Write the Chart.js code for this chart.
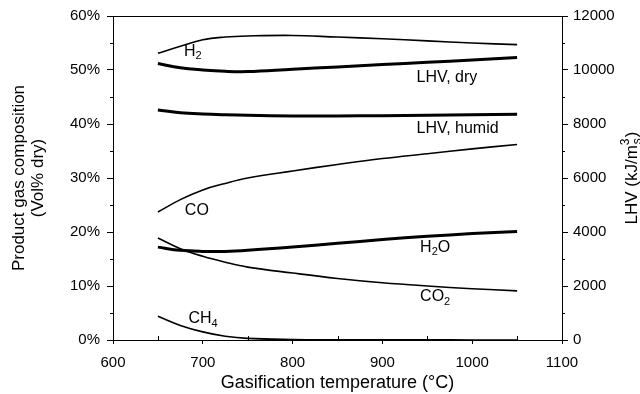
<!DOCTYPE html>
<html>
<head>
<meta charset="utf-8">
<script src="https://cdn.jsdelivr.net/npm/chart.js@4.4.0/dist/chart.umd.min.js"></script>
<style>
  html, body { margin: 0; padding: 0; background: #fff; }
  #wrap { width: 640px; height: 394px; }
</style>
</head>
<body>
<div id="wrap"><canvas id="chart"></canvas></div>
<script>
// gasification temperature (°C)
const temps = [650, 675, 700, 725, 750, 800, 850, 900, 950, 1000, 1050];

// product gas composition, vol% dry
const h2  = [53.1, 54.4, 55.6, 56.1, 56.3, 56.4, 56.1, 55.8, 55.4, 55.0, 54.7];
const co  = [23.7, 26.0, 27.8, 29.0, 30.0, 31.3, 32.5, 33.6, 34.5, 35.4, 36.2];
const h2o = [17.2, 16.6, 16.4, 16.4, 16.6, 17.2, 17.9, 18.6, 19.2, 19.7, 20.1];
const co2 = [18.9, 16.9, 15.5, 14.4, 13.5, 12.4, 11.4, 10.6, 10.0, 9.5, 9.1];
const ch4 = [4.4, 2.7, 1.5, 0.7, 0.3, 0.1, 0.05, 0.03, 0.02, 0.01, 0.01];

// lower heating value, kJ/m3
const lhvDry   = [10240, 10080, 10000, 9950, 9940, 10030, 10115, 10200, 10285, 10370, 10460];
const lhvHumid = [8520, 8420, 8370, 8340, 8320, 8300, 8300, 8310, 8320, 8340, 8360];

const xTicks = [600, 700, 800, 900, 1000, 1100];
const leftTicks = [0, 10, 20, 30, 40, 50, 60];
const rightTicks = [0, 2000, 4000, 6000, 8000, 10000, 12000];

const FONT = '"Liberation Sans", Arial, Helvetica, sans-serif';

// curve names, placed next to the lines (x in °C, y in vol%)
const curveLabels = [
  { parts: [['H', 'n'], ['2', 'sub']], x: 679, y: 53.4 },
  { parts: [['LHV, dry', 'n']], x: 938, y: 48.6 },
  { parts: [['LHV, humid', 'n']], x: 938, y: 39.2 },
  { parts: [['CO', 'n']], x: 680, y: 24.0 },
  { parts: [['H', 'n'], ['2', 'sub'], ['O', 'n']], x: 942, y: 17.1 },
  { parts: [['CO', 'n'], ['2', 'sub']], x: 942, y: 8.0 },
  { parts: [['CH', 'n'], ['4', 'sub']], x: 684, y: 3.9 }
];

function pts(ys) {
  return temps.map((t, i) => ({ x: t, y: ys[i] }));
}

function line(label, ys, axis, width) {
  return {
    label: label,
    data: pts(ys),
    yAxisID: axis,
    borderColor: '#000',
    borderWidth: width,
    pointRadius: 0,
    fill: false,
    tension: 0.4
  };
}

function drawRich(ctx, parts, x, y, size) {
  let cx = x;
  ctx.textBaseline = 'middle';
  ctx.textAlign = 'left';
  parts.forEach(([t, kind]) => {
    const s = kind === 'n' ? size : Math.round(size * 0.68);
    ctx.font = s + 'px ' + FONT;
    let dy = 0;
    if (kind === 'sub') dy = size * 0.3;
    ctx.fillText(t, cx, y + dy);
    cx += ctx.measureText(t).width;
  });
}

const decor = {
  id: 'decor',
  afterDraw(chart) {
    const ctx = chart.ctx;
    const a = chart.chartArea;
    const xs = chart.scales.x, yl = chart.scales.y, yr = chart.scales.y2;
    ctx.save();
    ctx.strokeStyle = '#000';
    ctx.fillStyle = '#000';
    ctx.lineWidth = 1;

    // frame top
    ctx.beginPath();
    ctx.moveTo(a.left, a.top + 0.5);
    ctx.lineTo(a.right, a.top + 0.5);
    ctx.stroke();

    // minor ticks
    ctx.beginPath();
    for (let v = 5; v < 60; v += 10) {
      const py = Math.round(yl.getPixelForValue(v)) + 0.5;
      ctx.moveTo(a.left - 3, py); ctx.lineTo(a.left, py);
    }
    for (let v = 1000; v < 12000; v += 2000) {
      const py = Math.round(yr.getPixelForValue(v)) + 0.5;
      ctx.moveTo(a.right, py); ctx.lineTo(a.right + 3, py);
    }
    for (let v = 650; v < 1100; v += 100) {
      const px = Math.round(xs.getPixelForValue(v)) + 0.5;
      ctx.moveTo(px, a.bottom); ctx.lineTo(px, a.bottom - 4);
    }
    ctx.stroke();

    // curve labels
    curveLabels.forEach(l => {
      drawRich(ctx, l.parts, xs.getPixelForValue(l.x), yl.getPixelForValue(l.y), 16);
    });

    // right axis title, with m3 superscript and s subscript stacked
    ctx.font = '17px ' + FONT;
    const head = 'LHV (kJ/m';
    const w = ctx.measureText(head + ')').width + 8;
    ctx.translate(632, (a.top + a.bottom) / 2);
    ctx.rotate(-Math.PI / 2);
    ctx.textBaseline = 'middle';
    ctx.textAlign = 'left';
    let cx = -w / 2;
    ctx.fillText(head, cx, 0);
    cx += ctx.measureText(head).width;
    ctx.font = '12px ' + FONT;
    ctx.fillText('3', cx, -6);
    ctx.fillText('s', cx + 1, 6);
    cx += 8;
    ctx.font = '17px ' + FONT;
    ctx.fillText(')', cx, 0);
    ctx.restore();
  }
};

new Chart(document.getElementById('chart'), {
  type: 'line',
  data: {
    datasets: [
      line('H2', h2, 'y', 1.6),
      line('LHV, dry', lhvDry, 'y2', 3),
      line('LHV, humid', lhvHumid, 'y2', 3),
      line('CO', co, 'y', 1.6),
      line('H2O', h2o, 'y', 3),
      line('CO2', co2, 'y', 1.6),
      line('CH4', ch4, 'y', 1.6)
    ]
  },
  options: {
    responsive: true,
    maintainAspectRatio: false,
    animation: false,
    layout: { padding: { top: 15, left: 0, right: 0, bottom: 0 } },
    plugins: {
      legend: { display: false },
      tooltip: { enabled: false }
    },
    scales: {
      x: {
        type: 'linear',
        min: 600,
        max: 1100,
        afterFit: s => { s.height = 54; },
        afterBuildTicks: s => { s.ticks = xTicks.map(v => ({ value: v })); },
        grid: { drawOnChartArea: false, color: '#000', tickLength: 4 },
        border: { color: '#000', width: 1 },
        ticks: {
          color: '#000',
          font: { family: FONT, size: 15 },
          padding: 10,
          maxRotation: 0,
          callback: v => String(v)
        },
        title: {
          display: true,
          text: 'Gasification temperature (°C)',
          color: '#000',
          font: { family: FONT, size: 18 },
          padding: { top: 0, bottom: 0 }
        }
      },
      y: {
        position: 'left',
        min: 0,
        max: 60,
        afterFit: s => { s.width = 113; },
        afterBuildTicks: s => { s.ticks = leftTicks.map(v => ({ value: v })); },
        grid: { drawOnChartArea: false, color: '#000', tickLength: 6 },
        border: { color: '#000', width: 1 },
        ticks: {
          color: '#000',
          font: { family: FONT, size: 15 },
          padding: 7,
          callback: v => v + '%'
        },
        title: {
          display: true,
          text: ['Product gas composition', '(Vol% dry)'],
          color: '#000',
          font: { family: FONT, size: 17, lineHeight: 1.1 },
          padding: { top: 10, bottom: 0 }
        }
      },
      y2: {
        position: 'right',
        min: 0,
        max: 12000,
        afterFit: s => { s.width = 78; },
        afterBuildTicks: s => { s.ticks = rightTicks.map(v => ({ value: v })); },
        grid: { drawOnChartArea: false, color: '#000', tickLength: 6 },
        border: { color: '#000', width: 1 },
        ticks: {
          color: '#000',
          font: { family: FONT, size: 15 },
          padding: 5,
          callback: v => String(v)
        }
      }
    }
  },
  plugins: [decor]
});
</script>
</body>
</html>
